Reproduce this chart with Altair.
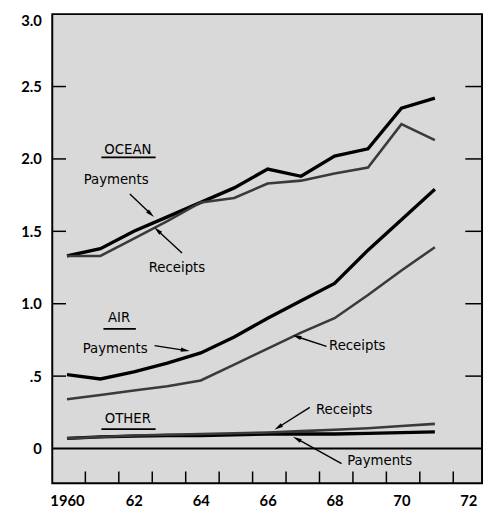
import math
import altair as alt
import pandas as pd

# ---- data ----
years = list(range(1960, 1972))
ocean_payments = [1.33, 1.38, 1.50, 1.60, 1.70, 1.80, 1.93, 1.88, 2.02, 2.07, 2.35, 2.42]
ocean_receipts = [1.33, 1.33, 1.45, 1.57, 1.70, 1.73, 1.83, 1.85, 1.90, 1.94, 2.24, 2.13]
air_payments = [0.51, 0.48, 0.53, 0.59, 0.66, 0.77, 0.90, 1.02, 1.14, 1.37, 1.58, 1.79]
air_receipts = [0.34, 0.37, 0.40, 0.43, 0.47, 0.58, 0.69, 0.80, 0.90, 1.06, 1.23, 1.39]
other_payments = [0.07, 0.08, 0.085, 0.09, 0.09, 0.095, 0.10, 0.10, 0.10, 0.105, 0.11, 0.115]
other_receipts = [0.07, 0.08, 0.09, 0.095, 0.10, 0.105, 0.11, 0.12, 0.13, 0.14, 0.155, 0.17]

y_tick_values = [0, 0.5, 1.0, 1.5, 2.0, 2.5, 3.0]
inner_y_ticks = [0.5, 1.0, 1.5, 2.0, 2.5]
x_label_values = [1960, 1962, 1964, 1966, 1968, 1970, 1972]
x_minor_ticks = [1960.55 + k for k in range(12)]

# annotation texts (data coordinates)
label_text = ["Payments", "Receipts", "Payments", "Receipts", "Receipts", "Payments"]
label_x = [1961.47, 1963.29, 1961.44, 1968.68, 1968.29, 1969.35]
label_y = [1.86, 1.255, 0.691, 0.711, 0.27, -0.077]

heading_text = ["OCEAN", "AIR", "OTHER"]
heading_x = [1961.82, 1961.56, 1961.82]
heading_y = [2.07, 0.908, 0.209]
under_x1 = [1961.03, 1961.09, 1961.03]
under_x2 = [1962.65, 1962.06, 1962.65]
under_y = [2.01, 0.827, 0.134]

arrow_x1 = [1961.88, 1963.44, 1962.62, 1967.76, 1967.26, 1968.21]
arrow_y1 = [1.757, 1.35, 0.711, 0.705, 0.284, -0.104]
arrow_x2 = [1962.50, 1962.71, 1963.53, 1966.88, 1966.32, 1966.88]
arrow_y2 = [1.621, 1.506, 0.678, 0.772, 0.147, 0.066]

# ---- layout ----
W, H = 437, 477
X_DOMAIN = [1959.56, 1972.41]
Y_DOMAIN = [-0.24, 3.0]
PXX = W / (X_DOMAIN[1] - X_DOMAIN[0])
PXY = H / (Y_DOMAIN[1] - Y_DOMAIN[0])

series = []
for name, kind, vals in [
    ("ocean_p", "Payments", ocean_payments),
    ("ocean_r", "Receipts", ocean_receipts),
    ("air_p", "Payments", air_payments),
    ("air_r", "Receipts", air_receipts),
    ("other_p", "Payments", other_payments),
    ("other_r", "Receipts", other_receipts),
]:
    for yr, v in zip(years, vals):
        series.append({"series": name, "kind": kind, "year": yr, "value": v})
df = pd.DataFrame(series)

xs = alt.Scale(domain=X_DOMAIN, nice=False, zero=False)
ys = alt.Scale(domain=Y_DOMAIN, nice=False, zero=False)

TXT_FONT = "Liberation Sans Narrow, DejaVu Sans Condensed, sans-serif"
AX_FONT = "Lato, DejaVu Sans, sans-serif"

x_axis = alt.Axis(
    values=x_label_values,
    labelExpr="datum.value == 1960 ? '1960' : format(datum.value % 100, 'd')",
    ticks=False, tickSize=0, domain=False, grid=False, title=None,
    labelFont=AX_FONT, labelFontSize=15, labelFontWeight="bold", labelColor="black",
    labelPadding=11, labelBaseline="top",
)
y_axis = alt.Axis(
    values=y_tick_values,
    labelExpr="datum.value == 0 ? '0' : datum.value == 0.5 ? '.5' : format(datum.value, '.1f')",
    ticks=False, tickSize=0, domain=False, grid=False, title=None,
    labelFont=AX_FONT, labelFontSize=15, labelFontWeight="bold", labelColor="black",
    labelPadding=11, labelFlush=True,
)

lines = alt.Chart(df).mark_line(strokeJoin="miter").encode(
    x=alt.X("year:Q", scale=xs, axis=x_axis),
    y=alt.Y("value:Q", scale=ys, axis=y_axis),
    detail="series:N",
    color=alt.Color("kind:N", scale=alt.Scale(domain=["Payments", "Receipts"], range=["#000000", "#3a3a3a"]), legend=None),
    strokeWidth=alt.StrokeWidth("kind:N", scale=alt.Scale(domain=["Payments", "Receipts"], range=[3.4, 2.6]), legend=None),
    order="year:Q",
)

zero = alt.Chart(pd.DataFrame({"v": [0]})).mark_rule(color="black", strokeWidth=2).encode(
    y=alt.Y("v:Q", scale=ys)
)

ytick_df = pd.DataFrame({"v": inner_y_ticks})
left_ticks = alt.Chart(ytick_df).mark_rule(color="black", strokeWidth=1.5).encode(
    y=alt.Y("v:Q", scale=ys), x=alt.value(0), x2=alt.value(14)
)
right_ticks = alt.Chart(ytick_df).mark_rule(color="black", strokeWidth=1.5).encode(
    y=alt.Y("v:Q", scale=ys), x=alt.value(W - 17), x2=alt.value(W)
)
bottom_ticks = alt.Chart(pd.DataFrame({"t": x_minor_ticks})).mark_rule(color="black", strokeWidth=1.5).encode(
    x=alt.X("t:Q", scale=xs), y=alt.value(H - 12), y2=alt.value(H)
)

labels = alt.Chart(pd.DataFrame({"t": label_text, "x": label_x, "y": label_y})).mark_text(
    font=TXT_FONT, fontSize=15, color="black", align="center", baseline="middle"
).encode(x=alt.X("x:Q", scale=xs), y=alt.Y("y:Q", scale=ys), text="t:N")

heads = alt.Chart(pd.DataFrame({"t": heading_text, "x": heading_x, "y": heading_y})).mark_text(
    font=TXT_FONT, fontSize=15, color="black", align="center", baseline="middle"
).encode(x=alt.X("x:Q", scale=xs), y=alt.Y("y:Q", scale=ys), text="t:N")

unders = alt.Chart(pd.DataFrame({"x1": under_x1, "x2": under_x2, "y": under_y})).mark_rule(
    color="black", strokeWidth=1.8
).encode(x=alt.X("x1:Q", scale=xs), x2="x2:Q", y=alt.Y("y:Q", scale=ys))

angles = []
for a, b, c, d in zip(arrow_x1, arrow_y1, arrow_x2, arrow_y2):
    dx = (c - a) * PXX
    dy = -(d - b) * PXY
    angles.append(math.degrees(math.atan2(dx, -dy)) % 360)
arr_df = pd.DataFrame({"x1": arrow_x1, "y1": arrow_y1, "x2": arrow_x2, "y2": arrow_y2, "ang": angles})

arrow_lines = alt.Chart(arr_df).mark_rule(color="black", strokeWidth=1.4).encode(
    x=alt.X("x1:Q", scale=xs), y=alt.Y("y1:Q", scale=ys), x2="x2:Q", y2="y2:Q"
)
arrow_heads = alt.Chart(arr_df).mark_point(
    shape="M0,-1L0.45,0.9L-0.45,0.9Z", filled=True, color="black", size=90, opacity=1
).encode(
    x=alt.X("x2:Q", scale=xs), y=alt.Y("y2:Q", scale=ys), angle=alt.Angle("ang:Q", scale=None)
)

chart = alt.layer(
    zero, lines, left_ticks, right_ticks, bottom_ticks, unders, heads, labels, arrow_lines, arrow_heads
).properties(
    width=W, height=H,
    autosize=alt.AutoSizeParams(type="none"),
    padding={"left": 45, "top": 2, "right": 2, "bottom": 26},
).configure(
    background="white",
    view=alt.ViewConfig(stroke="black", strokeWidth=2, fill="#d9d9d9"),
)

chart.save("out.html", embed_options={"renderer": "svg", "actions": False})
